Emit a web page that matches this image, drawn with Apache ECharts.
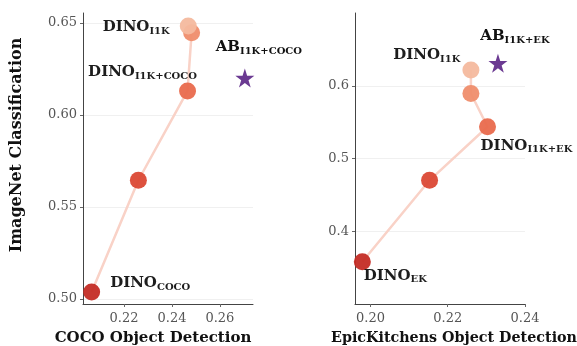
<!DOCTYPE html>
<html><head><meta charset="utf-8">
<script src="https://cdn.jsdelivr.net/npm/echarts@6/dist/echarts.min.js"></script>
<style>html,body{margin:0;padding:0;background:#fff}#c{width:577px;height:346px}</style>
</head><body><div id="c"></div>
<script>
// Left panel: COCO
const cocoX = [0.2065, 0.2260, 0.2465, 0.2482, 0.2468];
const cocoY = [0.5038, 0.5645, 0.6130, 0.6446, 0.6482];
const cocoLabels = ['DINO|COCO', '', 'DINO|I1K+COCO', '', 'DINO|I1K'];
const cocoAB = [0.2704, 0.6200];
const cocoABLabel = 'AB|I1K+COCO';
const cocoXTicks = [0.22, 0.24, 0.26];
const cocoYTicks = [0.50, 0.55, 0.60, 0.65];
// Right panel: EpicKitchens
const ekX = [0.1979, 0.2153, 0.2303, 0.2260, 0.2260];
const ekY = [0.3580, 0.4700, 0.5436, 0.5894, 0.6216];
const ekLabels = ['DINO|EK', '', 'DINO|I1K+EK', '', 'DINO|I1K'];
const ekAB = [0.2330, 0.6310];
const ekABLabel = 'AB|I1K+EK';
const ekXTicks = [0.20, 0.22, 0.24];
const ekYTicks = [0.4, 0.5, 0.6];

const pointColors = ['#c42c25', '#db4834', '#e96a4d', '#ef8d6c', '#f4b99e'];
const lineColor = '#f9d2c7';
const starColor = '#6b3a92';
const SERIF = "'DejaVu Serif', 'Liberation Serif', serif";

const rich = {
  a: {fontFamily: SERIF, fontWeight: 'bold', fontSize: 15, color: '#111', lineHeight: 15, verticalAlign: 'top'},
  s: {fontFamily: SERIF, fontWeight: 'bold', fontSize: 10, color: '#111', lineHeight: 10, padding: [8, 0, 0, 0]}
};
function fmtLabel(t) {
  const p = t.split('|');
  return '{a|' + p[0] + '}{s|' + p[1] + '}';
}

// label placement per point (styling only)
const cocoLabelPos = [
  {position: 'right', distance: 10, offset: [0, -9]},
  null,
  {position: 'top', distance: 4, offset: [-45, 1]},
  null,
  {position: 'left', distance: 10, offset: [0, 1]}
];
const ekLabelPos = [
  {position: 'bottom', distance: -2, offset: [33, 0]},
  null,
  {position: 'bottom', distance: 0, offset: [39, 3]},
  null,
  {position: 'left', distance: 2, offset: [0, -15]}
];

function pointsData(xs, ys, labels, pos) {
  return xs.map((x, i) => {
    const d = {value: [x, ys[i]], itemStyle: {color: pointColors[i], opacity: 0.95}};
    if (labels[i]) {
      d.label = Object.assign({show: true, formatter: fmtLabel(labels[i]), rich: rich}, pos[i]);
    } else {
      d.label = {show: false};
    }
    return d;
  });
}

function xAxis(gi, min, max, ticks, name, pad, fs) {
  return {
    type: 'value', gridIndex: gi, min: min, max: max,
    name: name, nameLocation: 'middle', nameGap: 27,
    nameTextStyle: {fontFamily: SERIF, fontWeight: 'bold', fontSize: fs, color: '#111', padding: pad},
    axisLine: {lineStyle: {color: '#444', width: 1}},
    axisTick: {show: true, length: 3, lineStyle: {color: '#666'}, customValues: ticks},
    axisLabel: {customValues: ticks, fontFamily: SERIF, fontSize: 13, color: '#555', margin: 8,
      formatter: v => v.toFixed(2)},
    splitLine: {show: false}
  };
}
function yAxis(gi, min, max, ticks, dec, name) {
  return {
    type: 'value', gridIndex: gi, min: min, max: max,
    name: name || '', nameLocation: 'middle', nameGap: 58, nameRotate: 90,
    nameTextStyle: {fontFamily: SERIF, fontWeight: 'bold', fontSize: 16, color: '#111', padding: [0, 0, 0, 27]},
    axisLine: {show: true, lineStyle: {color: '#444', width: 1}},
    axisTick: {show: true, length: 3, lineStyle: {color: '#666'}, customValues: ticks},
    axisLabel: {customValues: ticks, fontFamily: SERIF, fontSize: 13, color: '#555', margin: 6,
      formatter: v => v.toFixed(dec)},
    splitLine: {show: true, lineStyle: {color: '#f0f0f0', width: 1}}
  };
}

const STAR = 'path://M50,0 L61.8,35.3 L99,35.3 L68.9,57.2 L80.3,92.6 L50,70.7 L19.7,92.6 L31.1,57.2 L1,35.3 L38.2,35.3 Z';
const chart = echarts.init(document.getElementById('c'), null, {renderer: 'canvas'});
chart.setOption({
  animation: false,
  backgroundColor: '#fff',
  grid: [
    {left: 83, right: 324, top: 13, bottom: 42, outerBoundsMode: 'none', containLabel: false},
    {left: 355, right: 52, top: 13, bottom: 42, outerBoundsMode: 'none', containLabel: false}
  ],
  xAxis: [
    xAxis(0, 0.2029, 0.2738, cocoXTicks, 'COCO Object Detection', [0, 30, 0, 0], 15),
    xAxis(1, 0.196, 0.24, ekXTicks, 'EpicKitchens Object Detection', [0, 0, 0, 28], 14.3)
  ],
  yAxis: [
    yAxis(0, 0.4973, 0.6553, cocoYTicks, 2, 'ImageNet Classification'),
    yAxis(1, 0.30, 0.70, ekYTicks, 1, '')
  ],
  series: [
    {type: 'line', xAxisIndex: 0, yAxisIndex: 0, data: cocoX.map((x, i) => [x, cocoY[i]]),
      showSymbol: false, lineStyle: {color: lineColor, width: 2.5}, z: 1, silent: true},
    {type: 'scatter', xAxisIndex: 0, yAxisIndex: 0, symbolSize: 17, z: 3,
      data: pointsData(cocoX, cocoY, cocoLabels, cocoLabelPos)},
    {type: 'scatter', xAxisIndex: 0, yAxisIndex: 0, symbol: STAR, symbolSize: 19, z: 3,
      itemStyle: {color: starColor, opacity: 1},
      data: [{value: cocoAB, label: {show: true, position: 'top', distance: 14, offset: [14, 0], formatter: fmtLabel(cocoABLabel), rich: rich}}]},
    {type: 'line', xAxisIndex: 1, yAxisIndex: 1, data: ekX.map((x, i) => [x, ekY[i]]),
      showSymbol: false, lineStyle: {color: lineColor, width: 2.5}, z: 1, silent: true},
    {type: 'scatter', xAxisIndex: 1, yAxisIndex: 1, symbolSize: 17, z: 3,
      data: pointsData(ekX, ekY, ekLabels, ekLabelPos)},
    {type: 'scatter', xAxisIndex: 1, yAxisIndex: 1, symbol: STAR, symbolSize: 19, z: 3,
      itemStyle: {color: starColor, opacity: 1},
      data: [{value: ekAB, label: {show: true, position: 'top', distance: 10, offset: [17, 0], formatter: fmtLabel(ekABLabel), rich: rich}}]}
  ]
});
</script></body></html>
